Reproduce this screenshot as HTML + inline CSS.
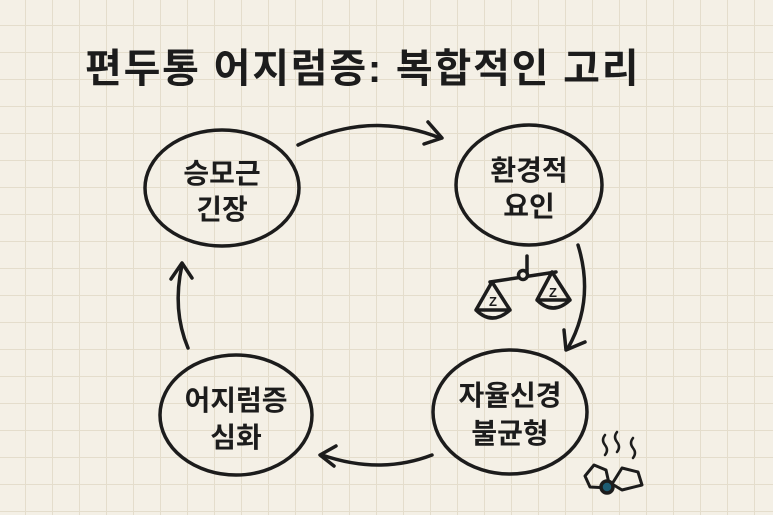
<!DOCTYPE html><html><head><meta charset="utf-8"><style>
body{margin:0;width:773px;height:515px;overflow:hidden;background:#f4f0e6;
background-image:linear-gradient(#e4ddcc 1px,transparent 1px),linear-gradient(90deg,#e4ddcc 1px,transparent 1px);background-size:27px 27px;background-position:-2px -2px;}
svg{position:absolute;left:0;top:0}
text{font-family:"Liberation Sans","Noto Sans CJK KR","NanumGothic",sans-serif;fill:#1c1c1c;font-weight:bold}
</style></head><body>
<svg width="773" height="515" viewBox="0 0 773 515" fill="none" stroke="#1c1c1c" stroke-width="3.5" stroke-linecap="round" stroke-linejoin="round">
<text x="85" y="82" font-size="40" letter-spacing="1.5" textLength="555" stroke="none">편두통 어지럼증: 복합적인 고리</text>
<ellipse cx="222" cy="188" rx="77" ry="58"/>
<ellipse cx="529" cy="185" rx="73" ry="60"/>
<ellipse cx="510" cy="412" rx="77" ry="62"/>
<ellipse cx="236" cy="415" rx="76" ry="60"/>
<g stroke="none" font-size="28" text-anchor="middle">
<text x="222" y="183">승모근</text><text x="222" y="219">긴장</text>
<text x="529" y="180">환경적</text><text x="529" y="216">요인</text>
<text x="510" y="405">자율신경</text><text x="510" y="443">불균형</text>
<text x="236" y="410">어지럼증</text><text x="236" y="447">심화</text>
</g>
<path d="M298 145 Q370 110 440 138"/><path d="M428 122 L442 138 L424 144"/>
<path d="M578 245 Q595 300 568 348"/><path d="M564 330 L566 350 L585 342"/>
<path d="M432 455 Q380 475 322 455"/><path d="M336 446 L320 455 L334 466"/>
<path d="M188 348 Q172 310 182 265"/><path d="M171 279 L182 263 L192 278"/>
<path d="M527 256 V272 M490 282 L556 272"/><circle cx="523" cy="275" r="4.5" fill="#f4f0e6"/>
<path d="M492 282 L476 310 Q492 326 510 310 Z M476 310 H510"/>
<path d="M552 272 L537 300 Q553 316 570 300 Z M537 300 H570"/>
<text x="493" y="306" font-size="13" stroke="none" text-anchor="middle">Z</text>
<text x="553" y="297" font-size="13" stroke="none" text-anchor="middle">Z</text>
<path d="M605 435 q-4 5 0 10 q4 5 0 10 M617 432 q-4 5 0 10 q4 5 0 10 M633 438 q-4 5 0 10 q4 5 0 10" stroke-width="2.5"/>
<path d="M585 476 L594 465 L606 470 L610 488 L590 487 Z M612 484 L622 468 L638 472 L642 485 L622 490 Z" stroke-width="3"/>
<circle cx="607" cy="487" r="6" fill="#1d5c73"/>
</svg></body></html>
